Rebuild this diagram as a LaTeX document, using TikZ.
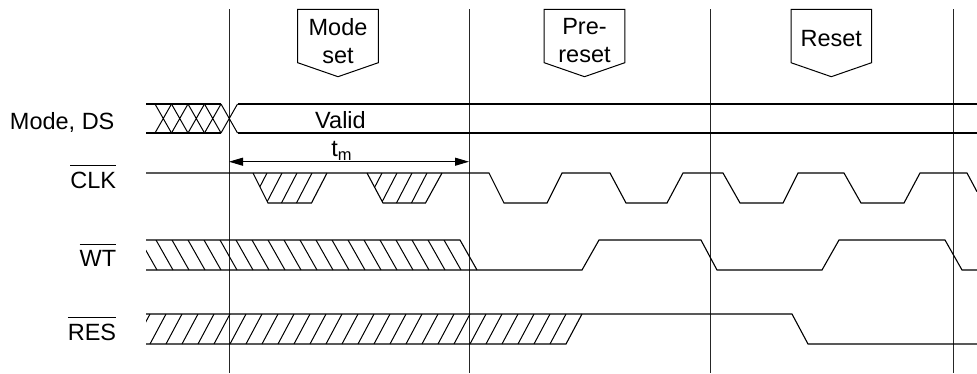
\documentclass[tikz,border=0pt]{standalone}
\usepackage{fontspec}
\setmainfont{Liberation Sans}
\usetikzlibrary{arrows.meta}
\newcommand\ovl[1]{\vbox{\hrule height 0.9pt\kern 5.5pt\hbox{#1}}}
\begin{document}
\begin{tikzpicture}[x=1pt,y=-1pt,line width=1.1pt,line join=miter,
  every node/.style={font=\fontsize{23.5}{28}\selectfont,inner sep=0pt},
  gridline/.style={line width=0.9pt,black!85},
  lbl/.style={anchor=base east},
  txt/.style={anchor=base},
  ptr/.style={line width=1pt},
  hatch/.style={line width=1pt},
  dimarrow/.style={line width=1pt,{Triangle[length=14pt,width=8pt]}-{Triangle[length=14pt,width=8pt]}}]
\useasboundingbox (0,0) rectangle (977,373);

% vertical reference lines
\coordinate (g1top) at (229,9.3);   \coordinate (g1bot) at (229,373);
\coordinate (g2top) at (469,9.3);   \coordinate (g2bot) at (469,373);
\coordinate (g3top) at (710,9.3);   \coordinate (g3bot) at (710,373);
\coordinate (g4top) at (953,9.3);   \coordinate (g4bot) at (953,373);
\coordinate (g1tm) at (229,161.7);  \coordinate (g2tm) at (469,161.7);
\foreach \n in {g1,g2,g3,g4}{
  \draw[gridline] (\n top) -- (\n bot);
}

% pointer boxes
\foreach \c in {338,584.5,831.3}{
  \draw[ptr] ({\c-40.3},9.3) -- ({\c+40.3},9.3) -- ({\c+40.3},62.7) -- (\c,76.7) -- ({\c-40.3},62.7) -- cycle;
}
\node[txt] (ms1) at (338,35) {Mode};
\node[txt] (ms2) at (338,63.3) {set};
\node[txt] (pr1) at (584.5,34.3) {Pre-};
\node[txt] (pr2) at (584.5,62.7) {reset};
\node[txt] (rs) at (831.3,46.7) {Reset};

% signal labels
\node[lbl] (lmode) at (115,129) {Mode, DS};
\node[lbl] (lclk) at (116.7,188.3) {\ovl{CLK}};
\node[lbl] (lwt) at (116.7,266.7) {\ovl{WT}};
\node[lbl] (lres) at (116.7,340) {\ovl{RES}};

% Mode, DS bus
\draw (146,104) -- (221,104) (146,133) -- (221,133);
\foreach \i in {0,...,4}{
  \draw[hatch] ({155+16.5*\i},104) -- ({171.5+16.5*\i},133)
               ({155+16.5*\i},133) -- ({171.5+16.5*\i},104);
}
\draw (237.5,104) -- (977,104) (237.5,133) -- (977,133);
\node[txt] (valid) at (340.5,128.3) {Valid};

% t_m
\draw[dimarrow] (g1tm) -- (g2tm);
\node[txt] (tm) at (341.7,156.7) {t\textsubscript{m}};

% CLK
\draw (146,173) -- (489,173) -- (504,203) -- (547,203) -- (562,173) -- (610,173)
  -- (626,203) -- (667,203) -- (683,173) -- (723,173) -- (740,203) -- (783,203)
  -- (798,173) -- (844,173) -- (861,203) -- (904,203) -- (920,173) -- (967,173) -- (977,191.7);
\draw (253,173) -- (268,203) -- (311.5,203) -- (327,173);
\draw (367,173) -- (383,203) -- (425.5,203) -- (442,173);
\begin{scope}
  \clip (253,173) -- (268,203) -- (311.5,203) -- (327,173) -- cycle;
  \foreach \k in {1,...,5} \draw[hatch] ({327-15*\k},173) -- ({311.5-15*\k},203);
\end{scope}
\begin{scope}
  \clip (367,173) -- (383,203) -- (425.5,203) -- (442,173) -- cycle;
  \foreach \k in {1,...,5} \draw[hatch] ({442-15*\k},173) -- ({426.5-15*\k},203);
\end{scope}

% WT
\begin{scope}
  \clip (146,240) -- (460,240) -- (477,270) -- (146,270) -- cycle;
  \foreach \k in {-1,...,18} \draw[hatch] ({156+16*\k},240) -- ({173+16*\k},270);
\end{scope}
\draw (146,240) -- (460,240) -- (477,270);
\draw (146,270) -- (582,270) -- (599,240) -- (701,240) -- (717,270) -- (822,270)
  -- (839,240) -- (945,240) -- (962,270) -- (977,270);

% RES
\begin{scope}
  \clip (146,314) -- (582,314) -- (566,344) -- (146,344) -- cycle;
  \foreach \k in {-1,...,25} \draw[hatch] ({150+16*\k},344) -- ({166+16*\k},314);
\end{scope}
\draw (146,314) -- (792,314) -- (808,344) -- (977,344);
\draw (146,344) -- (566,344) -- (582,314);
\end{tikzpicture}
\end{document}
